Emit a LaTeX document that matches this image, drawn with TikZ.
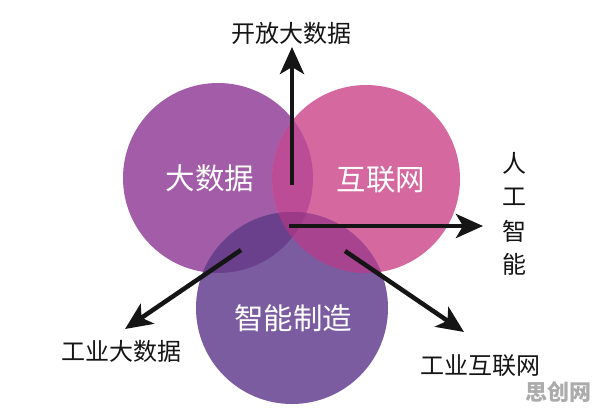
\documentclass[tikz,border=0pt]{standalone}
\usepackage{fontspec}
\setmainfont{Noto Sans CJK SC}
\newfontfamily\cjk{Noto Sans CJK SC}
\usetikzlibrary{arrows.meta}
\definecolor{cA}{HTML}{A35CA8}
\definecolor{cB}{HTML}{D4689F}
\definecolor{cC}{HTML}{7B5CA0}
\definecolor{cAB}{HTML}{BD4C97}
\definecolor{cAC}{HTML}{6A3F8B}
\definecolor{cBC}{HTML}{A8438F}
\definecolor{cABC}{HTML}{9C3A88}
\definecolor{ink}{HTML}{151515}
\tikzset{
  inner/.style={text=white,font=\cjk\fontsize{29.5}{32}\selectfont,inner sep=0pt},
  outer/.style={text=ink,font=\cjk\fontsize{24}{28}\selectfont,inner sep=0pt},
  arr/.style={draw=ink,line width=4.5pt,-{Stealth[length=27pt,width=24pt,inset=7pt]}},
}
\begin{document}
\begin{tikzpicture}[x=1pt,y=-1pt]
\useasboundingbox (0,0) rectangle (596,410);
\fill[white] (0,0) rectangle (596,410);
\coordinate (A) at (218,178);
\coordinate (B) at (366,179);
\coordinate (C) at (292,308);
\def\cA{(A) circle (95pt)}
\def\cB{(B) circle (94pt)}
\def\cC{(C) circle (96pt)}
\fill[cA] \cA;
\fill[cB] \cB;
\fill[cC] \cC;
\begin{scope}\clip \cA; \fill[cAB] \cB; \end{scope}
\begin{scope}\clip \cA; \fill[cAC] \cC; \end{scope}
\begin{scope}\clip \cB; \fill[cBC] \cC; \end{scope}
\begin{scope}\clip \cA; \clip \cB; \fill[cABC] \cC; \end{scope}
% inner labels
\node[inner] (t1) at (210,178) {大数据};
\node[inner] (t2) at (381,180) {互联网};
\node[inner] (t3) at (293,318) {智能制造};
% outer labels
\node[outer] (o1) at (291,33) {开放大数据};
\node[outer] (o2a) at (514,163) {人};
\node[outer] (o2b) at (514,197) {工};
\node[outer] (o2c) at (514,231) {智};
\node[outer] (o2d) at (514,264) {能};
\node[outer] (o3) at (121,351) {工业大数据};
\node[outer] (o4) at (480,366) {工业互联网};
\node[text=black!33,font=\cjk\bfseries\fontsize{22}{24}\selectfont,inner sep=0pt] (wm) at (558,392) {思创网};
% arrows
\coordinate (s1) at (292,185);
\coordinate (e1) at (292,47);
\coordinate (s2) at (289,226);
\coordinate (e2) at (483,226);
\coordinate (s3) at (241,250);
\coordinate (e3) at (125,329);
\coordinate (s4) at (345,251);
\coordinate (e4) at (464,332);
\draw[arr] (s1) -- (e1);
\draw[arr] (s2) -- (e2);
\draw[arr] (s3) -- (e3);
\draw[arr] (s4) -- (e4);
\end{tikzpicture}
\end{document}
